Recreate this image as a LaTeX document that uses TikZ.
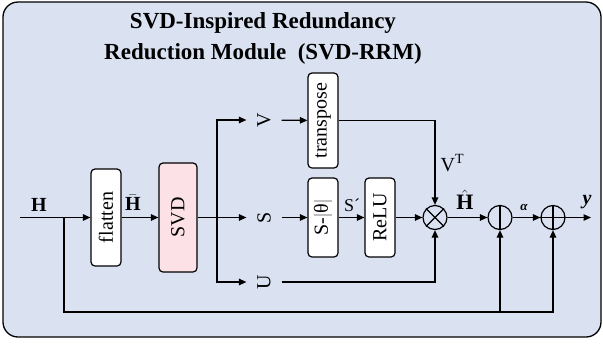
\documentclass[tikz,border=0pt]{standalone}
\usepackage{fontspec}
\setmainfont{Liberation Serif}
\usetikzlibrary{arrows.meta,calc}
\definecolor{framebg}{RGB}{218,226,242}
\definecolor{svdpink}{RGB}{252,226,230}
\begin{document}
\begin{tikzpicture}[x=1pt,y=-1pt,
  line width=1.2pt,
  arr/.style={-{Triangle[length=7.5pt,width=6.5pt]}},
  box/.style={draw, rounded corners=4pt, fill=white, rotate=90, inner sep=0pt,
    font=\fontsize{20}{22}\selectfont},
  lbl/.style={inner sep=0pt, font=\fontsize{20}{22}\selectfont},
  rlbl/.style={lbl, rotate=90, minimum height=34pt},
  opc/.style={draw, circle, minimum size=24pt, inner sep=0pt}
]
\useasboundingbox (0,0) rectangle (603,346);
\draw[rounded corners=15pt, fill=framebg, line width=1.3pt] (3,2) rectangle (601,337);

% title
\node[font=\fontsize{23}{31}\selectfont\bfseries, align=center, inner sep=0pt] (title) at (263,38)
  {SVD-Inspired Redundancy\\Reduction Module~~(SVD-RRM)};

% boxes
\node[box, minimum width=97pt, minimum height=30pt] (flat) at (106,217.5) {flatten};
\node[box, fill=svdpink, minimum width=109pt, minimum height=38pt] (svd) at (178,217.5) {SVD};
\node[box, minimum width=95pt, minimum height=30pt] (tr) at (323,120.5) {transpose};
\node[box, minimum width=79pt, minimum height=30pt] (st) at (323,217.5) {S-{\color{gray}|}θ{\color{gray}|}};
\node[box, minimum width=79pt, minimum height=30pt] (relu) at (380,217.5) {ReLU};

% V S U labels
\node[rlbl] (vl) at (264,120) {V};
\node[rlbl] (sl) at (264,217.5) {S};
\node[rlbl] (ul) at (264,282) {U};

% operators
\node[opc] (ot) at (435,217.5) {};
\draw (ot.45) -- (ot.225) (ot.135) -- (ot.315);
\node[opc] (c2) at (500,217.5) {};
\draw (c2.north) -- (c2.south);
\node[opc] (c3) at (553,217.5) {};
\draw (c3.north) -- (c3.south) (c3.west) -- (c3.east);

% coordinates
\coordinate (in) at (20,217.5);
\coordinate (br) at (64,217.5);
\coordinate (bot) at (64,312);
\coordinate (bm) at (500,312);
\coordinate (sp) at (217,217.5);
\coordinate (out) at (591,217.5);

% connectors
\draw[arr] (in) -- (flat);
\draw[arr] (flat) -- (svd);
\draw (svd) -- (sp);
\draw[arr] (sp) |- (vl);
\draw[arr] (sp) -- (sl);
\draw[arr] (sp) |- (ul);
\draw[arr] (vl) -- (tr);
\draw[arr] (sl) -- (st);
\draw[arr] (st) -- (relu);
\draw[arr] (relu) -- (ot);
\draw[arr] (tr) -| (ot);
\draw[arr] (ul) -| (ot);
\draw[arr] (ot) -- (c2);
\draw[arr] (c2) -- (c3);
\draw[arr] (c3) -- (out);
\draw[arr] (br) -- (bot) -| (c3);
\draw[arr] (bm) -- (c2);

% labels
\node[lbl, font=\fontsize{20}{22}\selectfont\bfseries] (hl) at (39,205) {H};
\node[lbl] (hbl) at (133,203) {$\bar{\textbf{H}}$};
\node[lbl, font=\fontsize{18}{20}\selectfont] (spl) at (352,205) {S´};
\node[lbl, anchor=west] (vtl) at (440,163) {V\textsuperscript{T}};
\node[lbl, font=\fontsize{22}{24}\selectfont] (hhl) at (465,200) {$\hat{\textbf{H}}$};
\node[lbl, font=\fontsize{13}{15}\selectfont\bfseries\itshape] (al) at (524,207) {α};
\node[lbl, font=\fontsize{20}{22}\selectfont\bfseries\itshape] (yl) at (587,202) {y};
\end{tikzpicture}
\end{document}
